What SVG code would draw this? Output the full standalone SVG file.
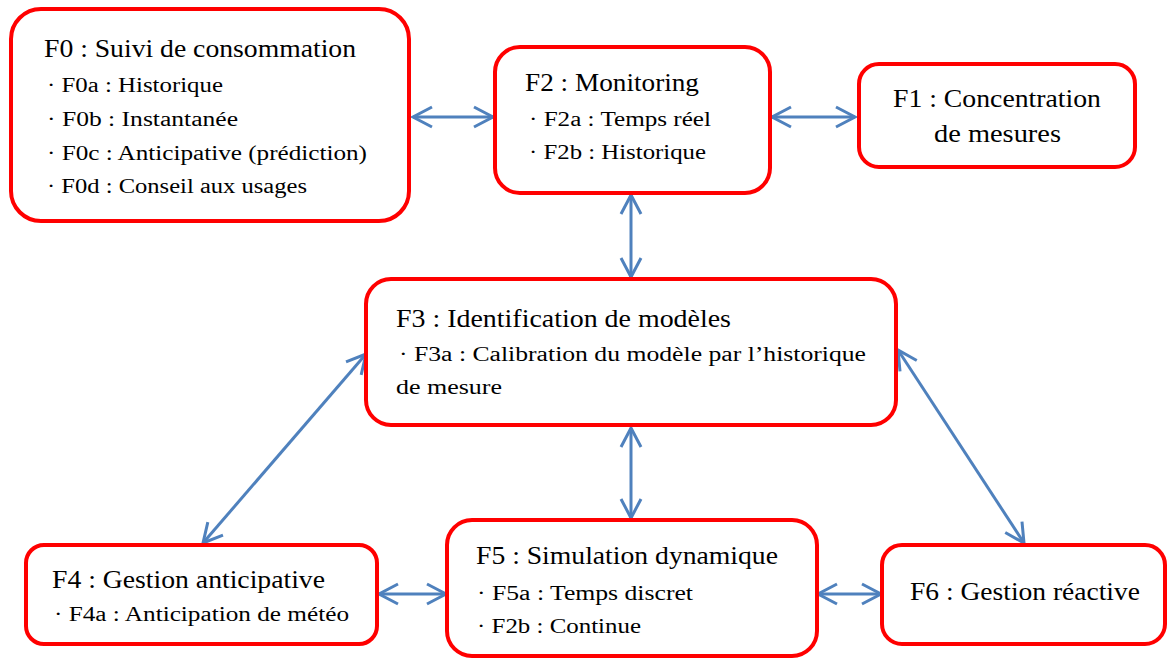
<svg xmlns="http://www.w3.org/2000/svg" width="1169" height="660" viewBox="0 0 1169 660">
<defs>
<style>
.box{fill:#fff;stroke:#ff0000;stroke-width:4}
.t{font-family:"Liberation Serif","Times New Roman",serif;fill:#000}
.h{font-size:26px}
.s{font-size:20.5px}
.c{stroke:#4f81bd;stroke-width:3;fill:none;marker-start:url(#ah);marker-end:url(#ah)}
</style>
<marker id="ah" markerUnits="userSpaceOnUse" orient="auto-start-reverse" refX="0" refY="0" markerWidth="30" markerHeight="30" overflow="visible">
<path d="M-19,-10 L0,0 L-19,10" fill="none" stroke="#4f81bd" stroke-width="3" stroke-linejoin="miter"/>
</marker>
</defs>
<rect width="1169" height="660" fill="#fff"/>
<g id="connectors">
<line class="c" x1="413" y1="117" x2="493" y2="117"/>
<line class="c" x1="772" y1="117" x2="855" y2="117"/>
<line class="c" x1="631" y1="195" x2="631" y2="277"/>
<line class="c" x1="366" y1="354" x2="203" y2="543"/>
<line class="c" x1="898" y1="350" x2="1024" y2="543"/>
<line class="c" x1="631" y1="428" x2="631" y2="518"/>
<line class="c" x1="379" y1="594" x2="446" y2="594"/>
<line class="c" x1="818" y1="594" x2="881" y2="594"/>
</g>
<g id="F0">
<rect class="box" x="11" y="9" width="398" height="212" rx="30"/>
<text class="t h" x="44" y="57" textLength="312" lengthAdjust="spacingAndGlyphs">F0 : Suivi de consommation</text>
<text class="t s" x="47" y="92" textLength="176" lengthAdjust="spacingAndGlyphs">· F0a : Historique</text>
<text class="t s" x="47" y="126" textLength="191" lengthAdjust="spacingAndGlyphs">· F0b : Instantanée</text>
<text class="t s" x="47" y="160" textLength="320" lengthAdjust="spacingAndGlyphs">· F0c : Anticipative (prédiction)</text>
<text class="t s" x="47" y="193" textLength="260" lengthAdjust="spacingAndGlyphs">· F0d : Conseil aux usages</text>
</g>
<g id="F2">
<rect class="box" x="495" y="47" width="275" height="146" rx="25"/>
<text class="t h" x="525" y="91" textLength="174" lengthAdjust="spacingAndGlyphs">F2 : Monitoring</text>
<text class="t s" x="529" y="126" textLength="182" lengthAdjust="spacingAndGlyphs">· F2a : Temps réel</text>
<text class="t s" x="529" y="159" textLength="177" lengthAdjust="spacingAndGlyphs">· F2b : Historique</text>
</g>
<g id="F1">
<rect class="box" x="859" y="64" width="276" height="103" rx="20"/>
<text class="t h" x="893" y="107" textLength="208" lengthAdjust="spacingAndGlyphs">F1 : Concentration</text>
<text class="t h" x="934" y="142" textLength="127" lengthAdjust="spacingAndGlyphs">de mesures</text>
</g>
<g id="F3">
<rect class="box" x="366" y="279" width="530" height="146" rx="25"/>
<text class="t h" x="396" y="327" textLength="335" lengthAdjust="spacingAndGlyphs">F3 : Identification de modèles</text>
<text class="t s" x="399" y="361" textLength="467" lengthAdjust="spacingAndGlyphs">· F3a : Calibration du modèle par l’historique</text>
<text class="t s" x="396" y="394" textLength="106" lengthAdjust="spacingAndGlyphs">de mesure</text>
</g>
<g id="F4">
<rect class="box" x="26" y="545" width="351" height="99" rx="18"/>
<text class="t h" x="52" y="588" textLength="273" lengthAdjust="spacingAndGlyphs">F4 : Gestion anticipative</text>
<text class="t s" x="54" y="621" textLength="295" lengthAdjust="spacingAndGlyphs">· F4a : Anticipation de météo</text>
</g>
<g id="F5">
<rect class="box" x="447" y="520" width="370" height="136" rx="25"/>
<text class="t h" x="476" y="564" textLength="302" lengthAdjust="spacingAndGlyphs">F5 : Simulation dynamique</text>
<text class="t s" x="477" y="600" textLength="216" lengthAdjust="spacingAndGlyphs">· F5a : Temps discret</text>
<text class="t s" x="477" y="633" textLength="164" lengthAdjust="spacingAndGlyphs">· F2b : Continue</text>
</g>
<g id="F6">
<rect class="box" x="882" y="545" width="283" height="99" rx="20"/>
<text class="t h" x="910" y="600" textLength="230" lengthAdjust="spacingAndGlyphs">F6 : Gestion réactive</text>
</g>
</svg>
